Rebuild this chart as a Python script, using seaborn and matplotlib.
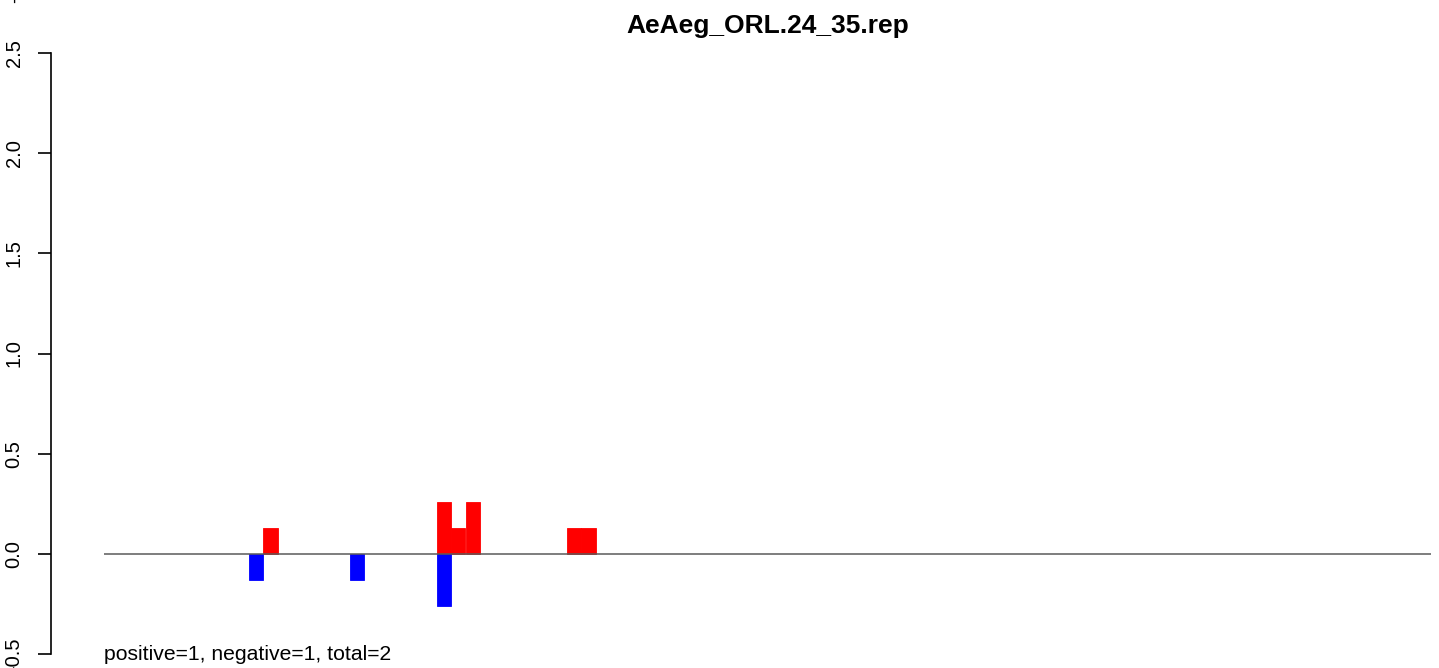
import matplotlib
matplotlib.use("Agg")
import matplotlib.pyplot as plt
import seaborn as sns
import numpy as np
import pandas as pd

# ---- data ----
title = "AeAeg_ORL.24_35.rep"
bin_width = 5
seq_length = 459
pos_starts = [55, 115, 120, 125, 160, 165]
pos_values = [0.13, 0.26, 0.13, 0.26, 0.13, 0.13]
neg_starts = [50, 85, 115]
neg_values = [-0.13, -0.13, -0.26]
yticks = [-0.5, 0.0, 0.5, 1.0, 1.5, 2.0, 2.5]
ytick_labels = ["-0.5", "0.0", "0.5", "1.0", "1.5", "2.0", "2.5"]
summary = "positive=1, negative=1, total=2"

sns.set_style("ticks")
plt.rcParams['font.family'] = ['Liberation Sans', 'DejaVu Sans']
plt.rcParams['text.color'] = 'black'
plt.rcParams['ytick.color'] = 'black'
plt.rcParams['ytick.labelcolor'] = 'black'

W, H = 1439, 668
fig = plt.figure(figsize=(W / 100, H / 100), dpi=100)
ax_left = 50.7 / W
ax = fig.add_axes([ax_left, 0, 1 - ax_left, 1])

df_pos = pd.DataFrame({"x": np.array(pos_starts) + bin_width / 2, "w": pos_values})
df_neg = pd.DataFrame({"x": np.array(neg_starts) + bin_width / 2, "w": neg_values})
binrange = (0, bin_width * int(np.ceil(seq_length / bin_width)))
sns.histplot(data=df_pos, x="x", weights="w", binwidth=bin_width, binrange=binrange,
             color="#ff0000", alpha=1, linewidth=0.6, edgecolor="#ff0000", ax=ax)
sns.histplot(data=df_neg, x="x", weights="w", binwidth=bin_width, binrange=binrange,
             color="#0000ff", alpha=1, linewidth=0.6, edgecolor="#0000ff", ax=ax)
# hide zero-height bars' edges
for p in ax.patches:
    if p.get_height() == 0:
        p.set_visible(False)

ax.hlines(0, 0, seq_length, color="#5a5a5a", linewidth=1.1, zorder=3)

# pixel mapping: y=0 at 554px, 200.5 px per unit; x=0 at 104px, 2.892 px per residue
ax.set_ylim((554 - H) / 200.5, 554 / 200.5)
ax.set_xlim((50.7 - 104) / 2.892, (W - 104) / 2.892)

for s in ["top", "right", "bottom"]:
    ax.spines[s].set_visible(False)
ax.spines["left"].set_bounds(-0.5, 2.5)
ax.spines["left"].set_linewidth(1.2)
ax.spines["left"].set_color("black")
ax.set_xticks([])
ax.set_yticks(yticks)
ax.set_yticklabels(ytick_labels, rotation=90, va="center")
ax.tick_params(axis="y", length=9.5, width=1.2, pad=10.0, labelsize=14.5,
               colors="black", labelcolor="black")
ax.set_xlabel("")
ax.set_ylabel("")
ax.patch.set_alpha(0)

fig.text(767.5 / W, 1 - 26 / H, title, ha="center", va="center",
         fontsize=19, fontweight="bold", color="black")
ax.text(0, (554 - 660) / 200.5, summary, ha="left", va="baseline",
        fontsize=15.2, color="black")
# clipped tick label from the panel above
fig.text(15 / W, 1 + 14 / H, "-0.5", rotation=90, ha="center", va="center",
         fontsize=14.5, color="black")

fig.savefig("out.png", dpi=100)
